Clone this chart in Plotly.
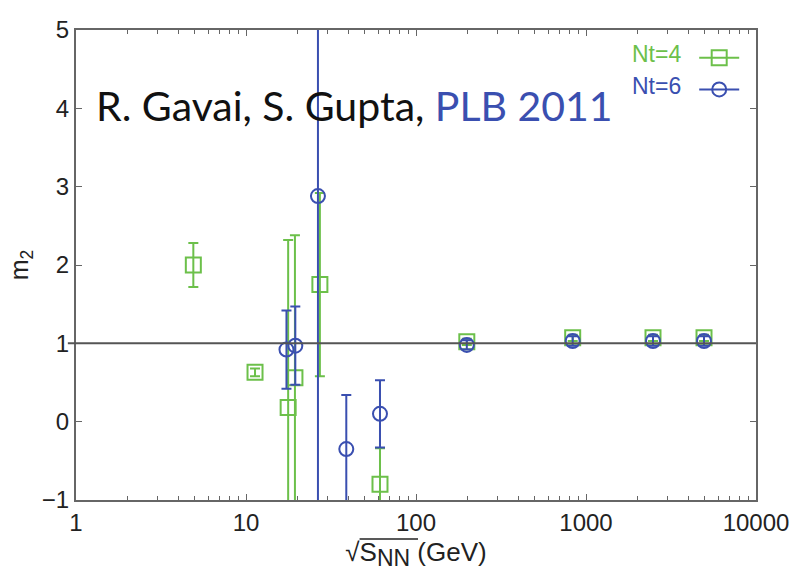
import plotly.graph_objects as go

# Nt=4 (green squares)
nt4_x = [4.9, 11.3, 17.7, 19.4, 27.2, 61.4, 199, 835, 2478, 4945]
nt4_y = [2.0, 0.63, 0.18, 0.56, 1.75, -0.8, 1.02, 1.07, 1.07, 1.07]
nt4_err = [0.28, 0.05, 2.14, 1.82, 1.17, 0.46, 0.04, 0.04, 0.04, 0.04]

# Nt=6 (blue circles)
nt6_x = [17.3, 19.5, 26.5, 38.9, 61.4, 199, 835, 2478, 4945]
nt6_y = [0.92, 0.97, 2.88, -0.35, 0.1, 0.98, 1.03, 1.03, 1.03]
nt6_err = [0.5, 0.5, 10.0, 0.69, 0.43, 0.06, 0.06, 0.06, 0.06]

green = "#6cc04a"
blue = "#3a4fb0"

fig = go.Figure()
fig.add_trace(go.Scatter(
    x=nt4_x, y=nt4_y, mode="markers", showlegend=False,
    marker=dict(symbol="square-open", size=15, color=green, line=dict(width=2)),
    error_y=dict(type="data", array=nt4_err, color=green, thickness=2, width=5),
))
fig.add_trace(go.Scatter(
    x=nt6_x, y=nt6_y, mode="markers", showlegend=False,
    marker=dict(symbol="circle-open", size=14, color=blue, line=dict(width=2)),
    error_y=dict(type="data", array=nt6_err, color=blue, thickness=2, width=5),
))
# legend samples
fig.add_trace(go.Scatter(
    x=[None], y=[None], mode="lines+markers", name="",
    line=dict(color=green, width=2),
    marker=dict(symbol="square-open", size=15, color=green, line=dict(width=2)),
))
fig.add_trace(go.Scatter(
    x=[None], y=[None], mode="lines+markers", name="",
    line=dict(color=blue, width=2),
    marker=dict(symbol="circle-open", size=14, color=blue, line=dict(width=2)),
))

# reference line at m2 = 1
fig.add_shape(type="line", xref="paper", yref="y", x0=-0.012, x1=1, y0=1, y1=1,
              line=dict(color="#555555", width=2))
# overline of the square root in the x-axis title
fig.add_shape(type="line", xref="paper", yref="paper", x0=0.417, x1=0.503, y0=-0.083, y1=-0.083,
              line=dict(color="#222222", width=1.5))

fig.add_annotation(xref="paper", yref="paper", x=0.026, y=0.84, xanchor="left", yanchor="middle",
                   text="R. Gavai, S. Gupta, <span style='color:#3a4fb0'>PLB 2011</span>",
                   showarrow=False, font=dict(family="Lato", size=41, color="#111111"))
fig.add_annotation(xref="paper", yref="paper", x=0.893, y=0.95, xanchor="right", yanchor="middle",
                   text="Nt=4", showarrow=False, font=dict(family="Liberation Sans", size=23, color=green))
fig.add_annotation(xref="paper", yref="paper", x=0.893, y=0.88, xanchor="right", yanchor="middle",
                   text="Nt=6", showarrow=False, font=dict(family="Liberation Sans", size=23, color=blue))

axis_common = dict(showline=True, linecolor="#666666", linewidth=2, mirror="allticks",
                   ticks="inside", ticklen=6, tickcolor="#666666", showgrid=False, zeroline=False,
                   tickfont=dict(family="Liberation Sans", size=24, color="#222222"))

fig.update_xaxes(type="log", range=[0, 4], dtick=1, tickformat="d",
                 minor=dict(ticks="inside", ticklen=4, dtick="D1", tickcolor="#666666"),
                 title=dict(text="√S<sub><span style='font-size:23px'>NN</span></sub>\u00a0(GeV)",
                            font=dict(family="Liberation Sans", size=26, color="#222222"), standoff=8),
                 **axis_common)
fig.update_yaxes(range=[-1, 5], dtick=1,
                 title=dict(text="m<sub>2</sub>", font=dict(family="Liberation Sans", size=25, color="#222222"),
                            standoff=6),
                 **axis_common)

fig.update_layout(
    width=801, height=577,
    margin=dict(l=76, r=45, t=30, b=77),
    paper_bgcolor="white", plot_bgcolor="white",
    legend=dict(x=0.99, y=0.985, xanchor="right", yanchor="top", bgcolor="rgba(0,0,0,0)",
                font=dict(size=22), tracegroupgap=0, itemwidth=40),
)

fig.write_html("out.html")
